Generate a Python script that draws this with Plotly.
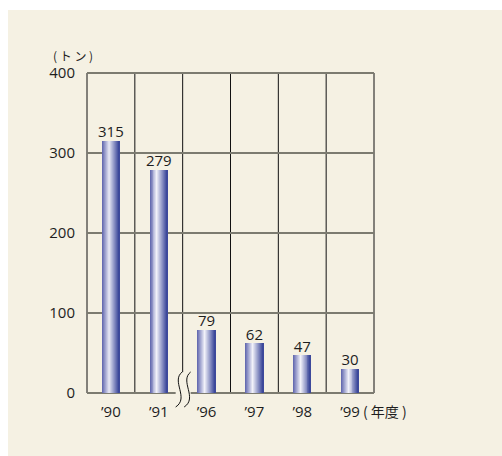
import plotly.graph_objects as go

# Yearly amounts (tons)
years = ["’90", "’91", "’96", "’97", "’98", "’99"]
amounts = [315, 279, 79, 62, 47, 30]
y_ticks = [0, 100, 200, 300, 400]

W, H = 502, 456
M_L, M_R, M_T, M_B = 87, 128, 73, 63
PW = W - M_L - M_R
PH = H - M_T - M_B
X_MIN, X_MAX = -0.5, len(years) - 0.5
Y_MIN, Y_MAX = 0, 400

BG = "#f5f1e3"
GRID = "#7c7b70"
FONT = "Open Sans, Noto Sans CJK JP"
CJK = "Noto Sans CJK JP"
TXT = "#1e1e1e"
FS = 15

xpos = list(range(len(years)))
fig = go.Figure()

# cylinder-like shading: strips of colour across each bar
BAR_W = 0.36
N_STRIP = 18
stops = [(0.0, (92, 98, 172)), (0.42, (242, 242, 250)), (1.0, (52, 64, 150))]


def shade(t):
    for (t0, c0), (t1, c1) in zip(stops[:-1], stops[1:]):
        if t0 <= t <= t1:
            f = (t - t0) / (t1 - t0)
            return "rgb(%d,%d,%d)" % tuple(round(a + (b - a) * f) for a, b in zip(c0, c1))
    return "rgb(%d,%d,%d)" % stops[-1][1]


for k in range(N_STRIP):
    t = (k + 0.5) / N_STRIP
    fig.add_trace(go.Bar(
        x=xpos, y=amounts,
        width=BAR_W / N_STRIP * 1.02,
        offset=-BAR_W / 2 + k * BAR_W / N_STRIP,
        marker=dict(color=shade(t), line=dict(width=0)),
        hoverinfo="skip", showlegend=False,
    ))

# value labels above the bars
fig.add_trace(go.Scatter(
    x=xpos, y=amounts, mode="text", text=[str(v) for v in amounts],
    textposition="top center", textfont=dict(family=FONT, size=FS, color=TXT),
    hoverinfo="skip", showlegend=False, cliponaxis=False,
))


# helpers: data -> paper coordinates (paper shapes are not clipped)
def fx(x):
    return (x - X_MIN) / (X_MAX - X_MIN)


def fy(y):
    return (y - Y_MIN) / (Y_MAX - Y_MIN)


shapes = []
# background panel
shapes.append(dict(type="rect", xref="paper", yref="paper",
                   x0=(8 - M_L) / PW, x1=(W - M_L) / PW,
                   y0=-M_B / PH, y1=(H - 10 - M_B) / PH,
                   fillcolor=BG, line=dict(width=0), layer="below"))

# vertical column separators (the one at the axis break stops short)
brk_x = 1.5
brk_top = 26
for i in range(len(years) + 1):
    xv = X_MIN + i
    y0 = brk_top if abs(xv - brk_x) < 1e-9 else 0
    shapes.append(dict(type="line", xref="paper", yref="paper", x0=fx(xv), x1=fx(xv),
                       y0=fy(y0), y1=fy(Y_MAX),
                       line=dict(color="#111", width=1), layer="below"))

# horizontal grid
for v in y_ticks[1:]:
    shapes.append(dict(type="line", xref="paper", yref="paper", x0=0, x1=1,
                       y0=fy(v), y1=fy(v),
                       line=dict(color=GRID, width=2), layer="below"))

# baseline, with a gap at the axis break
gap_l = fx(brk_x) - 7 / PW
gap_r = fx(brk_x) + 8 / PW
shapes.append(dict(type="line", xref="paper", yref="paper", x0=0, x1=gap_l, y0=0, y1=0,
                   line=dict(color=GRID, width=2), layer="below"))
shapes.append(dict(type="line", xref="paper", yref="paper", x0=gap_r, x1=1, y0=0, y1=0,
                   line=dict(color=GRID, width=2), layer="below"))


def pp(dx, dy):
    # pixel offset from the break point on the baseline -> paper coords
    return fx(brk_x) + dx / PW, -dy / PH


def s_curve(dx):
    p0 = pp(dx + 0.5, -21)
    c1 = pp(dx - 11, -12)
    c2 = pp(dx + 8, 5)
    p3 = pp(dx - 6, 14)
    return p0, c1, c2, p3


def fmt(p):
    return "%.5f,%.5f" % p


a = s_curve(-1)
b = s_curve(7.5)
for c in (a, b):
    shapes.append(dict(type="path", xref="paper", yref="paper",
                       path="M " + fmt(c[0]) + " C " + " ".join(fmt(p) for p in c[1:]),
                       line=dict(color="#111", width=1)))

annotations = [
    dict(text="( ト ン )", xref="paper", yref="paper",
         x=(73 - M_L) / PW, y=(H - 56 - M_B) / PH, showarrow=False,
         font=dict(family=CJK, size=12, color=TXT), xanchor="center", yanchor="middle"),
    dict(text="( 年度 )", xref="paper", yref="paper",
         x=(361 - M_L) / PW, y=(H - 411 - M_B) / PH, showarrow=False,
         font=dict(family=CJK, size=14, color=TXT), xanchor="left", yanchor="middle"),
]

fig.update_layout(
    width=W, height=H,
    margin=dict(l=M_L, r=M_R, t=M_T, b=M_B, pad=0),
    paper_bgcolor="white", plot_bgcolor="rgba(0,0,0,0)",
    barmode="overlay", bargap=0,
    shapes=shapes, annotations=annotations,
    xaxis=dict(range=[X_MIN, X_MAX], tickvals=xpos, ticktext=years,
               showgrid=False, zeroline=False, showline=False,
               ticks="", ticklabelstandoff=8,
               tickfont=dict(family=FONT, size=FS, color=TXT)),
    yaxis=dict(range=[Y_MIN, Y_MAX], tickvals=y_ticks,
               showgrid=False, zeroline=False, showline=False,
               ticks="", ticklabelstandoff=11,
               tickfont=dict(family=FONT, size=FS, color=TXT)),
    showlegend=False,
)

fig.write_html("out.html")
